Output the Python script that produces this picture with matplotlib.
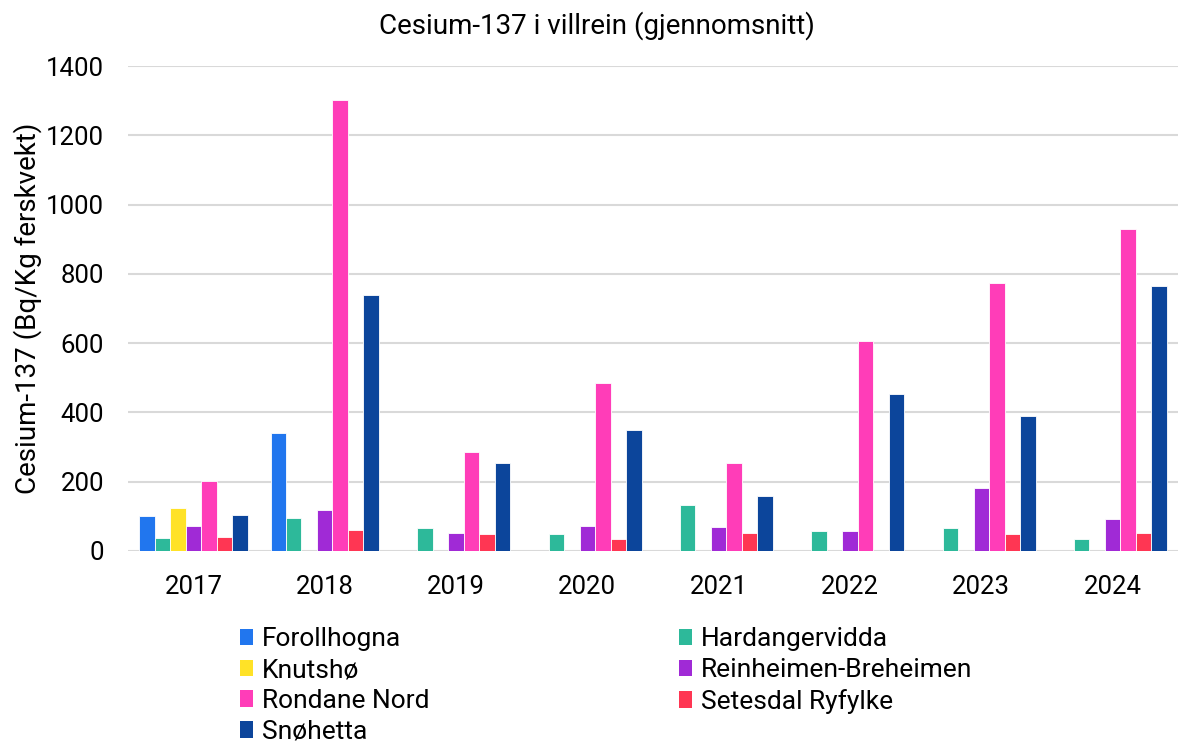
import numpy as np
import matplotlib
matplotlib.use("Agg")
import matplotlib.pyplot as plt
from matplotlib.patches import Patch

plt.rcParams['font.family'] = ['Roboto', 'DejaVu Sans']

years = ["2017", "2018", "2019", "2020", "2021", "2022", "2023", "2024"]
nan = np.nan
forollhogna = [102, 340, nan, nan, nan, nan, nan, nan]
hardangervidda = [37, 94, 65, 50, 134, 58, 67, 34]
knutsho = [124, nan, nan, nan, nan, nan, nan, nan]
reinheimen = [73, 118, 51, 72, 68, 58, 181, 91]
rondane = [201, 1302, 286, 486, 253, 606, 774, 929]
setesdal = [40, 60, 49, 34, 53, nan, 48, 51]
snohetta = [105, 739, 253, 349, 158, 452, 389, 765]

series = [
    ("Forollhogna", forollhogna, "#2176EE"),
    ("Hardangervidda", hardangervidda, "#2DB99A"),
    ("Knutshø", knutsho, "#FFE227"),
    ("Reinheimen-Breheimen", reinheimen, "#A02AD6"),
    ("Rondane Nord", rondane, "#FF3DB8"),
    ("Setesdal Ryfylke", setesdal, "#FF3653"),
    ("Snøhetta", snohetta, "#0C459B"),
]

fig = plt.figure(figsize=(11.83, 7.46), dpi=100)
ax = fig.add_axes([0.108, 0.2614, 0.888, 0.650])

x = np.arange(len(years))
w = 0.118
handles = {}
for i, (name, vals, col) in enumerate(series):
    ax.bar(x + (i - 3) * w, vals, width=w, color=col, edgecolor="white",
           linewidth=0.6, zorder=3)
    handles[name] = Patch(facecolor=col, edgecolor="none")

ax.set_xlim(-0.5, 7.5)
ax.set_ylim(0, 1400)
ax.set_yticks(range(0, 1401, 200))
ax.set_xticks(x)
ax.set_xticklabels(years)
ax.tick_params(axis="both", length=0, labelsize=18.5, colors="black")
ax.tick_params(axis="x", pad=17)
ax.tick_params(axis="y", pad=17)
ax.grid(axis="y", color="#d9d9d9", linewidth=1.5, zorder=0)
for s in ax.spines.values():
    s.set_visible(False)

ax.set_ylabel("Cesium-137 (Bq/Kg ferskvekt)", fontsize=20, labelpad=3)
fig.text(0.505, 0.966, "Cesium-137 i villrein (gjennomsnitt)", ha="center",
         va="center", fontsize=20)

# legend in two blocks so the order reads row by row like the original
left_names = ["Forollhogna", "Knutshø", "Rondane Nord", "Snøhetta"]
right_names = ["Hardangervidda", "Reinheimen-Breheimen", "Setesdal Ryfylke"]
kw = dict(frameon=False, fontsize=19, handlelength=0.48, handleheight=0.6,
          handletextpad=0.35, labelspacing=0.26, borderaxespad=0, borderpad=0)
fig.legend([handles[n] for n in left_names], left_names,
           loc="upper left", bbox_to_anchor=(0.203, 0.159), **kw)
fig.legend([handles[n] for n in right_names], right_names,
           loc="upper left", bbox_to_anchor=(0.574, 0.159), **kw)

fig.savefig("out.png", dpi=100)
